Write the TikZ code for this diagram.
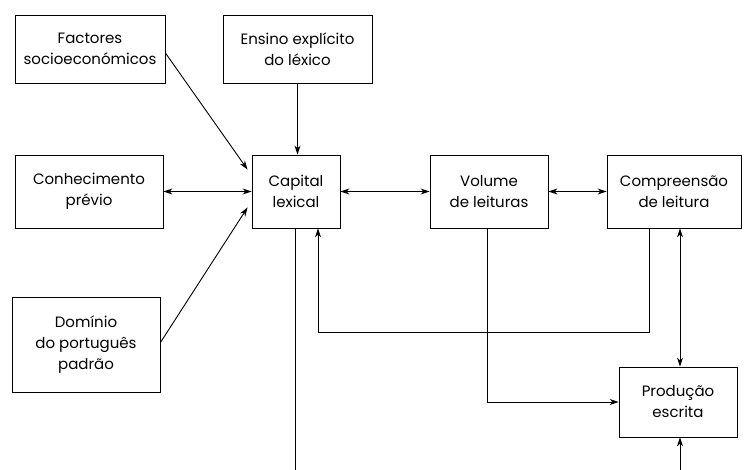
\documentclass[tikz,border=0pt]{standalone}
\usepackage{fontspec}
\setmainfont{Poppins}
\usetikzlibrary{arrows.meta,calc}
\begin{document}
\begin{tikzpicture}[x=1pt,y=-1pt,
  box/.style={draw,line width=0.9pt,align=center,inner sep=0pt,font=\fontsize{15}{21}\selectfont},
  conn/.style={line width=0.9pt},
  tip/.style={-{Stealth[length=9pt,width=6pt]}},
  both/.style={{Stealth[length=9pt,width=6pt]}-{Stealth[length=9pt,width=6pt]}}]
\useasboundingbox (0,0) rectangle (744,470);
\node[box,minimum width=150,minimum height=68] (fs) at (90,49) {Factores\\socioeconómicos};
\node[box,minimum width=149,minimum height=68] (ee) at (297.5,49) {Ensino explícito\\do léxico};
\node[box,minimum width=148,minimum height=73] (cp) at (89,191.5) {Conhecimento\\prévio};
\node[box,minimum width=88,minimum height=73] (cl) at (296,191.5) {Capital\\lexical};
\node[box,minimum width=118,minimum height=73] (vl) at (489,191.5) {Volume\\de leituras};
\node[box,minimum width=134,minimum height=73] (cr) at (674,191.5) {Compreensão\\de leitura};
\node[box,minimum width=148,minimum height=95] (dp) at (86,344.5) {Domínio\\do português\\padrão};
\node[box,minimum width=118,minimum height=70] (pe) at (678,402) {Produção\\escrita};
\coordinate (clend) at (295,470);
\coordinate (peend) at (680,470);
\draw[conn,tip] ($(fs.east)+(0,4)$) -- ($(cl.north west)+(-4,15)$);
\draw[conn,tip] (ee.south) -- (ee.south |- cl.north);
\draw[conn,both] (cp.east) -- (cl.west);
\draw[conn,tip] ($(dp.east)+(0,-2)$) -- ($(cl.south west)+(-4,-21)$);
\draw[conn,both] (cl.east) -- (vl.west);
\draw[conn,both] (vl.east) -- (cr.west);
\draw[conn] (clend |- cl.south) -- (clend);
\draw[conn,tip] ($(cr.south west)+(43,0)$) -- ++(0,104) -| ($(cl.south)+(22,0)$);
\draw[conn,tip] ($(vl.south)+(-2,0)$) |- (pe.west);
\draw[conn,both] (peend |- cr.south) -- (peend |- pe.north);
\draw[conn,tip] (peend) -- (peend |- pe.south);
\end{tikzpicture}
\end{document}
